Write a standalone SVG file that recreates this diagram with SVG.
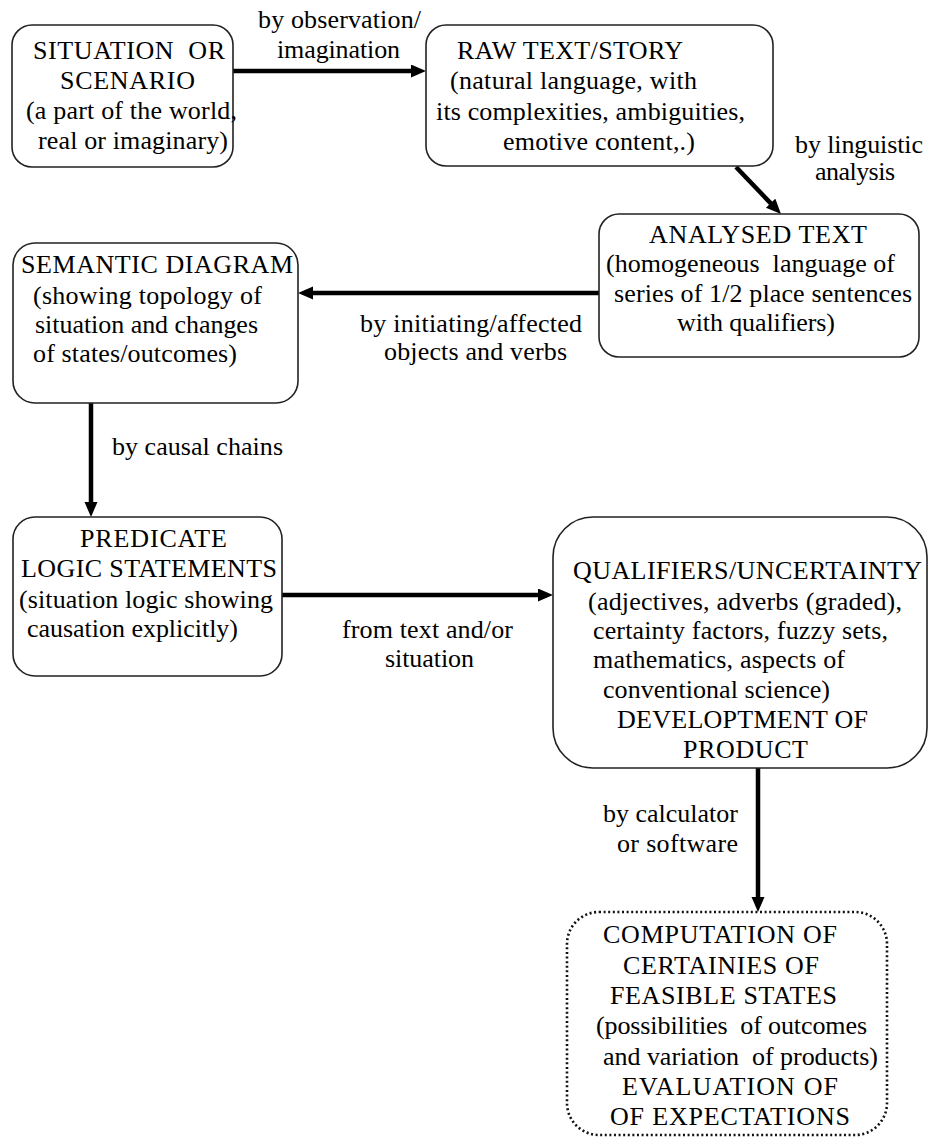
<svg xmlns="http://www.w3.org/2000/svg" width="929" height="1137" viewBox="0 0 929 1137">
<style>
text{font-family:"Liberation Serif","Times New Roman",serif;font-size:26px;fill:#000;white-space:pre}
.box{fill:#fff;stroke:#222;stroke-width:1.6}
.dot{fill:#fff;stroke:#111;stroke-width:2.6;stroke-dasharray:2 2.6}
.con{stroke:#000;stroke-width:4.5;fill:none;marker-end:url(#ah)}
</style>
<defs>
<marker id="ah" markerUnits="userSpaceOnUse" markerWidth="16" markerHeight="14" refX="2" refY="6.5" orient="auto">
<path d="M0,0 L15,6.5 L0,13 z" fill="#000"/>
</marker>
</defs>
<rect width="929" height="1137" fill="#fff"/>
<g id="connectors">
<line class="con" x1="233" y1="71" x2="413" y2="71"/>
<line class="con" x1="736" y1="167" x2="772" y2="204.6"/>
<line class="con" x1="599" y1="293" x2="311" y2="293"/>
<line class="con" x1="91" y1="403" x2="91" y2="504"/>
<line class="con" x1="282" y1="595" x2="540" y2="595"/>
<line class="con" x1="758" y1="768" x2="758" y2="899"/>
<text x="258" y="28" textLength="163" lengthAdjust="spacing">by observation/</text>
<text x="277" y="58" textLength="123" lengthAdjust="spacing">imagination</text>
<text x="795" y="153" textLength="128" lengthAdjust="spacing">by linguistic</text>
<text x="815" y="180" textLength="80" lengthAdjust="spacing">analysis</text>
<text x="360" y="332" textLength="222" lengthAdjust="spacing">by initiating/affected</text>
<text x="384" y="360" textLength="183" lengthAdjust="spacing">objects and verbs</text>
<text x="112" y="455" textLength="171" lengthAdjust="spacing">by causal chains</text>
<text x="342" y="638" textLength="171" lengthAdjust="spacing">from text and/or</text>
<text x="385" y="667" textLength="89" lengthAdjust="spacing">situation</text>
<text x="603" y="822" textLength="135" lengthAdjust="spacing">by calculator</text>
<text x="617" y="852" textLength="121" lengthAdjust="spacing">or software</text>
</g>
<g id="situation">
<rect class="box" x="12" y="25" width="221" height="142" rx="20"/>
<text x="33" y="59" textLength="192" lengthAdjust="spacing">SITUATION  OR</text>
<text x="60" y="89" textLength="135" lengthAdjust="spacing">SCENARIO</text>
<text x="26" y="119" textLength="211" lengthAdjust="spacing">(a part of the world,</text>
<text x="38" y="149" textLength="190" lengthAdjust="spacing">real or imaginary)</text>
</g>
<g id="rawtext">
<rect class="box" x="426" y="25" width="347" height="141" rx="20"/>
<text x="457" y="59" textLength="226" lengthAdjust="spacing">RAW TEXT/STORY</text>
<text x="450" y="89" textLength="247" lengthAdjust="spacing">(natural language, with</text>
<text x="436" y="120" textLength="309" lengthAdjust="spacing">its complexities, ambiguities,</text>
<text x="503" y="150" textLength="192" lengthAdjust="spacing">emotive content,.)</text>
</g>
<g id="analysed">
<rect class="box" x="599" y="214" width="320" height="143" rx="20"/>
<text x="649" y="243" textLength="218" lengthAdjust="spacing">ANALYSED TEXT</text>
<text x="606" y="272" textLength="289" lengthAdjust="spacing">(homogeneous  language of</text>
<text x="614" y="302" textLength="298" lengthAdjust="spacing">series of 1/2 place sentences</text>
<text x="677" y="331" textLength="158" lengthAdjust="spacing">with qualifiers)</text>
</g>
<g id="semantic">
<rect class="box" x="13" y="243" width="285" height="160" rx="22"/>
<text x="21" y="273" textLength="272" lengthAdjust="spacing">SEMANTIC DIAGRAM</text>
<text x="33" y="304" textLength="229" lengthAdjust="spacing">(showing topology of</text>
<text x="35" y="333" textLength="223" lengthAdjust="spacing">situation and changes</text>
<text x="33" y="362" textLength="204" lengthAdjust="spacing">of states/outcomes)</text>
</g>
<g id="predicate">
<rect class="box" x="13" y="517" width="269" height="159" rx="22"/>
<text x="80" y="547" textLength="147" lengthAdjust="spacing">PREDICATE</text>
<text x="21" y="577" textLength="256" lengthAdjust="spacing">LOGIC STATEMENTS</text>
<text x="19" y="608" textLength="254" lengthAdjust="spacing">(situation logic showing</text>
<text x="27" y="637" textLength="211" lengthAdjust="spacing">causation explicitly)</text>
</g>
<g id="qualifiers">
<rect class="box" x="553" y="517" width="374" height="251" rx="40"/>
<text x="573" y="579" textLength="349" lengthAdjust="spacing">QUALIFIERS/UNCERTAINTY</text>
<text x="588" y="610" textLength="314" lengthAdjust="spacing">(adjectives, adverbs (graded),</text>
<text x="593" y="639" textLength="295" lengthAdjust="spacing">certainty factors, fuzzy sets,</text>
<text x="593" y="668" textLength="252" lengthAdjust="spacing">mathematics, aspects of</text>
<text x="603" y="698" textLength="227" lengthAdjust="spacing">conventional science)</text>
<text x="617" y="728" textLength="251" lengthAdjust="spacing">DEVELOPTMENT OF</text>
<text x="683" y="758" textLength="125" lengthAdjust="spacing">PRODUCT</text>
</g>
<g id="computation">
<rect class="dot" x="567" y="912" width="320" height="223" rx="32"/>
<text x="603" y="943" textLength="234" lengthAdjust="spacing">COMPUTATION OF</text>
<text x="623" y="974" textLength="196" lengthAdjust="spacing">CERTAINIES OF</text>
<text x="610" y="1004" textLength="227" lengthAdjust="spacing">FEASIBLE STATES</text>
<text x="596" y="1034" textLength="271" lengthAdjust="spacing">(possibilities  of outcomes</text>
<text x="603" y="1065" textLength="275" lengthAdjust="spacing">and variation  of products)</text>
<text x="622" y="1095" textLength="216" lengthAdjust="spacing">EVALUATION OF</text>
<text x="610" y="1125" textLength="240" lengthAdjust="spacing">OF EXPECTATIONS</text>
</g>
</svg>
